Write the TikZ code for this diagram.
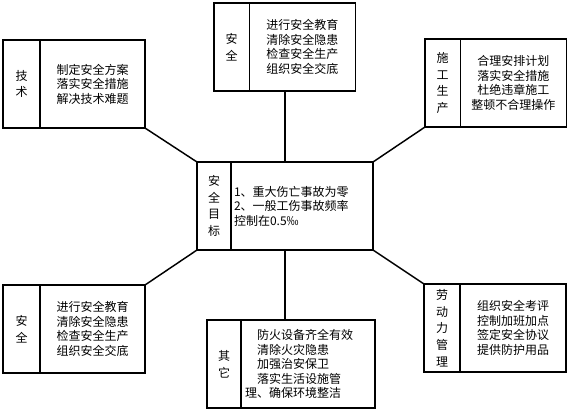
\documentclass[tikz,border=0pt]{standalone}
\usepackage{fontspec}
\setmainfont{Noto Sans CJK SC}
\usepackage{tikz}
\usetikzlibrary{positioning, calc}
\tikzset{
  cellL/.style={rectangle, draw=black, line width=1.1pt, inner sep=0pt,
    outer sep=0pt, align=center, minimum width=26.5pt, minimum height=66pt,
    font=\fontsize{9pt}{12.5pt}\selectfont},
  cellR/.style={rectangle, draw=black, line width=1.1pt, inner sep=0pt,
    outer sep=0pt, align=center, minimum width=79.5pt, minimum height=66pt,
    font=\fontsize{9pt}{10.9pt}\selectfont},
  link/.style={line width=1.1pt, color=black}
}
\begin{document}
\begin{tikzpicture}[x=0.75pt, y=-0.75pt]
  \useasboundingbox (0,0) rectangle (570,412);
  % centre
  \node[cellL, anchor=north west, minimum width=25.5pt] (goalL) at (197,162)
    {安\\全\\目\\标};
  \node[cellR, right=0pt of goalL, minimum width=106.5pt, text width=102pt,
    align=left] (goalR)
    {1、重大伤亡事故为零\\2、一般工伤事故频率\\控制在0.5‰};
  % top
  \node[cellL, anchor=north west] (topL) at (214,3) {安\\全};
  \node[cellR, right=0pt of topL] (topR)
    {进行安全教育\\清除安全隐患\\检查安全生产\\组织安全交底};
  % left top
  \node[cellL, anchor=north west, minimum width=27.75pt] (techL) at (3,40)
    {技\\术};
  \node[cellR, right=0pt of techL, minimum width=78.75pt] (techR)
    {制定安全方案\\落实安全措施\\解决技术难题};
  % right top
  \node[cellL, anchor=north west] (prodL) at (425,39) {施\\工\\生\\产};
  \node[cellR, right=0pt of prodL] (prodR)
    {合理安排计划\\落实安全措施\\杜绝违章施工\\整顿不合理操作};
  % left bottom
  \node[cellL, anchor=north west, minimum width=27.75pt] (botL) at (3,285)
    {安\\全};
  \node[cellR, right=0pt of botL, minimum width=78.75pt] (botR)
    {进行安全教育\\清除安全隐患\\检查安全生产\\组织安全交底};
  % bottom
  \node[cellL, anchor=north west, minimum width=25.5pt] (otherL) at (207,320)
    {其\\它};
  \node[cellR, right=0pt of otherL, minimum width=100.5pt, text width=94.5pt,
    align=left] (otherR)
    {\hspace*{1em}防火设备齐全有效\\\hspace*{1em}清除火灾隐患\\
     \hspace*{1em}加强治安保卫\\\hspace*{1em}落实生活设施管\\理、确保环境整洁};
  % right bottom
  \node[cellL, anchor=north west, minimum width=27pt] (laborL) at (424,284)
    {劳\\动\\力\\管\\理};
  \node[cellR, right=0pt of laborL] (laborR)
    {组织安全考评\\控制加班加点\\签定安全协议\\提供防护用品};
  % links
  \coordinate (gt) at ($(goalL.north west)!0.5!(goalR.north east)$);
  \coordinate (gb) at ($(goalL.south west)!0.5!(goalR.south east)$);
  \draw[link] (gt) -- (gt |- topR.south);
  \draw[link] (gb) -- (gb |- otherR.north);
  \draw[link] (techR.south east) -- (goalL.north west);
  \draw[link] (prodL.south west) -- (goalR.north east);
  \draw[link] (botR.north east) -- (goalL.south west);
  \draw[link] (laborL.north west) -- (goalR.south east);
\end{tikzpicture}
\end{document}
